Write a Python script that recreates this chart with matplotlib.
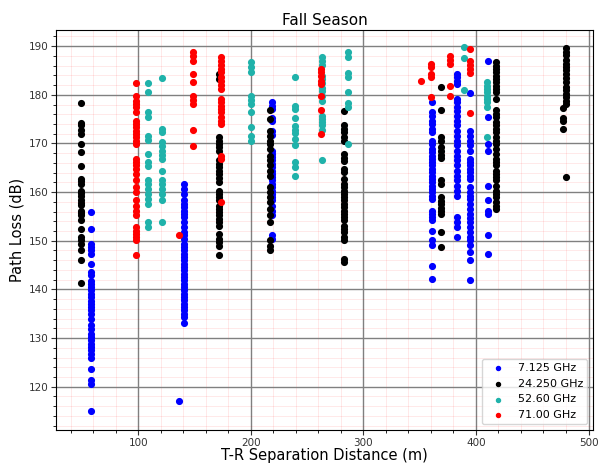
import matplotlib.pyplot as plt
from matplotlib.ticker import AutoMinorLocator

# path loss readings (dB) grouped by T-R distance (m)
ghz_7 = [
    (58, [155.9, 152.5, 149.4, 148.7, 148.0, 147.3, 145.3, 143.6, 142.9, 141.8, 141.2, 140.5,
          139.8, 139.1, 138.4, 137.7, 137.1, 136.4, 135.7, 135.0, 134.0, 132.6, 131.9, 130.9,
          130.2, 129.5, 128.8, 128.2, 127.5, 126.8, 125.8, 123.7, 121.3, 120.6, 115.0]),
    (136, [117.1]),
    (141, [161.6, 160.7, 159.6, 158.3, 157.6, 156.9, 156.2, 155.5, 154.9, 153.8, 152.8, 151.8,
           151.1, 150.4, 149.4, 148.7, 148.0, 147.3, 146.6, 146.0, 145.3, 144.6, 143.9, 143.2,
           142.5, 141.9, 141.2, 140.5, 139.8, 139.1, 138.4, 137.8, 137.1, 136.4, 135.7, 135.0,
           134.3, 133.1]),
    (219, [178.5, 177.8, 177.1, 175.3, 174.6, 172.6, 171.8, 168.5, 167.9, 167.2, 166.5, 165.8,
           165.1, 164.4, 163.7, 163.1, 162.4, 161.7, 161.0, 160.3, 159.6, 159.0, 158.3, 157.2,
           156.2, 155.2, 151.1, 150.4]),
    (361, [178.5, 176.4, 175.7, 174.7, 174.0, 173.0, 172.3, 170.6, 169.9, 168.9, 168.2, 167.5,
           166.8, 166.1, 165.5, 164.8, 164.1, 163.4, 162.7, 162.0, 161.3, 160.7, 160.0, 159.3,
           158.6, 156.2, 155.5, 154.9, 154.2, 152.1, 150.1, 149.2, 144.9, 142.2]),
    (383, [184.3, 183.6, 182.9, 182.2, 179.2, 178.5, 177.4, 176.6, 175.7, 174.7, 173.7, 172.6,
           171.6, 170.6, 169.6, 168.5, 167.5, 166.5, 165.5, 164.4, 163.4, 162.4, 161.3, 160.3,
           159.3, 154.9, 153.8, 152.8, 150.8]),
    (395, [180.3, 172.6, 171.6, 170.6, 169.6, 168.5, 166.8, 166.1, 165.5, 164.8, 164.1, 163.4,
           162.7, 161.0, 160.0, 159.3, 158.6, 157.6, 156.6, 155.5, 154.7, 153.8, 152.8, 151.8,
           150.8, 150.1, 149.2, 147.7, 146.0, 141.9]),
    (411, [186.9, 175.5, 169.8, 168.4, 161.3, 158.3, 156.2, 155.5, 151.1, 147.3]),
]

ghz_24 = [
    (49, [178.3, 174.3, 173.7, 172.8, 172.0, 169.9, 168.2, 165.3, 162.7, 162.2, 161.7, 160.3,
          159.8, 159.3, 158.3, 157.8, 157.3, 156.2, 155.7, 155.2, 154.2, 152.5, 150.7, 150.2,
          149.4, 148.0, 146.0, 141.4]),
    (172, [184.3, 183.3, 171.3, 170.6, 169.9, 169.2, 168.5, 166.5, 165.8, 165.1, 164.4, 163.7,
           162.9, 162.0, 160.3, 159.6, 159.0, 158.3, 157.2, 156.6, 155.9, 155.2, 154.5, 153.8,
           153.1, 151.4, 150.4, 149.7, 149.0, 147.0]),
    (217, [176.8, 175.1, 172.6, 171.6, 170.6, 169.8, 168.9, 167.5, 166.5, 165.5, 164.4, 163.4,
           161.0, 160.0, 159.0, 157.9, 156.6, 155.2, 153.8, 150.1, 149.0, 148.0]),
    (283, [176.6, 173.7, 173.0, 172.3, 171.4, 170.6, 167.9, 167.0, 166.3, 164.8, 164.1, 162.7,
           161.7, 161.0, 160.3, 159.6, 159.0, 158.3, 157.6, 156.9, 156.2, 155.5, 154.9, 154.2,
           153.1, 152.5, 151.8, 150.8, 150.1, 146.3, 145.6]),
    (369, [181.7, 176.8, 171.3, 170.6, 169.2, 168.4, 167.7, 167.0, 162.4, 161.6, 159.0, 158.1,
           157.5, 156.8, 156.1, 155.4, 151.8, 148.7]),
    (418, [186.7, 186.0, 185.3, 184.6, 183.9, 183.3, 182.6, 181.9, 181.2, 180.5, 179.2, 176.8,
           176.1, 175.4, 174.4, 173.7, 173.0, 172.3, 171.3, 170.6, 169.9, 168.9, 167.9, 166.8,
           166.1, 165.5, 164.4, 163.7, 163.1, 162.4, 161.3, 160.3, 159.6, 159.0, 157.9, 157.2,
           156.6]),
    (480, [189.7, 188.8, 188.1, 187.1, 186.4, 185.7, 185.0, 184.2, 183.5, 182.6, 181.6, 180.9,
           180.2, 179.5, 178.8, 178.2, 163.1]),
    (477, [177.3, 175.3, 174.6, 173.0]),
]

ghz_52 = [
    (109, [182.4, 180.5, 176.4, 175.5, 171.6, 170.7, 167.9, 166.1, 165.3, 162.4, 161.6, 160.7,
           159.6, 158.6, 157.6, 153.8, 152.8]),
    (121, [183.5, 173.0, 172.3, 170.2, 169.4, 168.5, 167.7, 166.8, 164.4, 162.4, 161.6, 160.7,
           159.6, 158.3, 153.8]),
    (200, [186.7, 185.7, 184.6, 179.8, 178.9, 178.1, 176.4, 173.3, 171.6, 170.6]),
    (239, [183.6, 177.8, 177.1, 175.3, 173.5, 172.8, 172.1, 170.9, 169.6, 166.1, 165.1, 163.4]),
    (263, [187.7, 186.9, 186.2, 183.9, 183.3, 182.4, 181.5, 180.7, 179.8, 178.8, 175.7, 175.0,
           174.4, 173.7, 172.8, 166.5]),
    (286, [188.7, 187.8, 184.4, 183.6, 180.5, 178.3, 177.4, 169.8]),
    (389, [189.9, 187.6, 180.9]),
    (410, [182.6, 181.9, 181.2, 180.5, 179.8, 179.2, 178.5, 177.4, 171.3]),
]

ghz_71 = [
    (98, [182.4, 179.8, 178.8, 178.1, 177.4, 176.4, 174.7, 174.0, 173.3, 172.6, 172.0, 171.3,
          170.6, 169.9, 166.8, 166.1, 165.5, 164.8, 163.8, 162.4, 161.0, 160.0, 158.3, 157.2,
          156.2, 155.2, 152.8, 152.1, 151.4, 150.7, 150.1, 147.0]),
    (136, [151.1]),
    (149, [188.7, 188.0, 186.9, 184.3, 182.6, 179.8, 178.9, 178.1, 172.8, 169.4]),
    (174, [187.8, 187.0, 186.2, 185.3, 184.6, 183.7, 182.9, 182.1, 181.2, 179.2, 178.5, 177.8,
           177.1, 176.4, 175.5, 174.7, 174.0, 167.5, 166.8, 157.9]),
    (262, [185.3, 184.6, 183.9, 182.9, 182.2, 179.8, 176.8, 172.0]),
    (351, [182.9]),
    (360, [186.3, 185.7, 184.3, 183.6, 179.5]),
    (377, [188.0, 187.2, 186.3, 181.9, 179.8]),
    (395, [189.4, 187.0, 186.2, 185.3, 184.4, 176.2]),
]

labels = ["7.125 GHz", "24.250 GHz", "52.60 GHz", "71.00 GHz"]
colors = ["b", "k", "#20b2aa", "r"]


def flatten(groups):
    xs, ys = [], []
    for d, losses in groups:
        xs += [d] * len(losses)
        ys += losses
    return xs, ys


fig = plt.figure(figsize=(6.12, 4.63), dpi=100)
ax = fig.add_axes([0.0915, 0.0713, 0.8775, 0.8637])

for groups, lab, col in zip([ghz_7, ghz_24, ghz_52, ghz_71], labels, colors):
    x, y = flatten(groups)
    ax.scatter(x, y, s=17, color=col, label=lab)

ax.set_xlim(27, 504)
ax.set_ylim(111.1, 193.3)
ax.set_xticks([100, 200, 300, 400, 500])
ax.set_yticks([120, 130, 140, 150, 160, 170, 180, 190])
ax.xaxis.set_minor_locator(AutoMinorLocator(5))
ax.yaxis.set_minor_locator(AutoMinorLocator(5))
ax.tick_params(labelsize=7.5, colors="#333333", pad=2)
ax.grid(which="major", color="gray", linewidth=1)
ax.grid(which="minor", color="r", alpha=0.1, linewidth=0.6)
ax.set_axisbelow(True)

ax.set_title("Fall Season", fontsize=11, pad=4)
ax.set_xlabel("T-R Separation Distance (m)", fontsize=10.5, labelpad=0)
ax.set_ylabel("Path Loss (dB)", fontsize=10.5, labelpad=3)
ax.legend(loc="lower right", fontsize=8, markerscale=0.7)

fig.savefig("out.png", dpi=100)
